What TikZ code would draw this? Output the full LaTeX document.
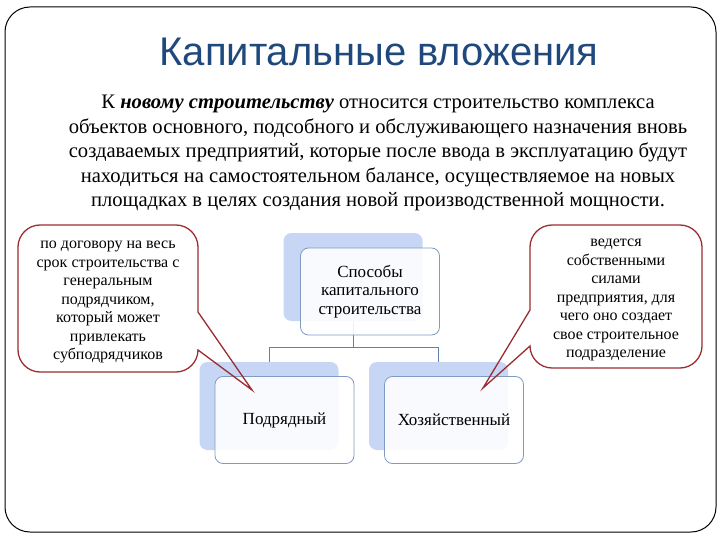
\documentclass[tikz,border=0pt]{standalone}
\usepackage{fontspec}
\setmainfont{Liberation Serif}
\newfontfamily\headfont{Liberation Sans}
\usepackage{xcolor}
\usetikzlibrary{positioning}

\definecolor{headblue}{HTML}{1F497D}
\definecolor{notered}{HTML}{9B2D30}
\definecolor{shadeblue}{HTML}{C7D6F4}
\definecolor{edgeblue}{HTML}{7F9BC4}
\definecolor{linkblue}{HTML}{5F80AE}

\begin{document}
\begin{tikzpicture}[x=1pt,y=-1pt,
    backbox/.style={rounded corners=8pt, fill=shadeblue, minimum width=139pt, minimum height=88pt},
    frontbox/.style={rounded corners=8pt, draw=edgeblue, line width=0.8pt, fill=white, fill opacity=0.88, text opacity=1,
        minimum width=139pt, minimum height=87pt, align=center, font=\fontsize{17}{18.5}\selectfont},
    link/.style={draw=linkblue, line width=0.9pt},
    note/.style={align=center, font=\fontsize{16}{18.5}\selectfont},
    callout/.style={draw=notered, line width=1.3pt}]
    \useasboundingbox (0,0) rectangle (720,540);

    % Slide frame
    \draw[rounded corners=25pt, line width=1pt] (5,7) rectangle (716,532);

    % Title
    \node[font=\headfont\fontsize{40}{46}\selectfont, text=headblue] (title) at (379,52) {Капитальные вложения};

    % Definition text
    \node[align=center, font=\fontsize{20.6}{24.5}\selectfont] (def) at (378,153)
        {К \textbf{\textit{новому строительству}} относится строительство комплекса\\
         объектов основного, подсобного и обслуживающего назначения вновь\\
         создаваемых предприятий, которые после ввода в эксплуатацию будут\\
         находиться на самостоятельном балансе, осуществляемое на новых\\
         площадках в целях создания новой производственной мощности.};

    % Hierarchy: shaded boxes behind
    \node[backbox] (spb) at (353,277) {};
    \node[backbox] (pdb) at (269,406) {};
    \node[backbox] (hzb) at (438.5,406) {};

    % Hierarchy: connectors
    \draw[link] (spb.south) -- ++(0,26) coordinate (fork) -| (pdb.north);
    \draw[link] (fork) -| (hzb.north);

    % Hierarchy: front boxes
    \node[frontbox] (sp) at (370,291.5) {Способы\\капитального\\строительства};
    \node[frontbox] (pd) at (284.5,420) {Подрядный};
    \node[frontbox] (hz) at (454,420) {Хозяйственный};

    % Left callout
    \node[note] (lnote) at (108,302) {по договору на весь\\срок строительства с\\генеральным\\подрядчиком,\\который может\\привлекать\\субподрядчиков};
    \coordinate (ltip) at (252,390);
    \draw[callout] (198,312) -- (198,247) .. controls (198,235) and (188,225) .. (176,225) -- (40,225)
        .. controls (28,225) and (18,235) .. (18,247) -- (18,350) .. controls (18,362) and (28,372) .. (40,372) -- (176,372)
        .. controls (188,372) and (198,362) .. (198,350) -- (ltip) -- cycle;

    % Right callout
    \node[note] (rnote) at (616,300) {ведется\\собственными\\силами\\предприятия, для\\чего оно создает\\свое строительное\\подразделение};
    \coordinate (rtip) at (483,388);
    \draw[callout] (530,310) -- (530,247) .. controls (530,235) and (540,225) .. (552,225) -- (680,225)
        .. controls (692,225) and (702,235) .. (702,247) -- (702,346) .. controls (702,358) and (692,368) .. (680,368) -- (552,368)
        .. controls (540,368) and (530,358) .. (530,346) -- (rtip) -- cycle;
\end{tikzpicture}
\end{document}
